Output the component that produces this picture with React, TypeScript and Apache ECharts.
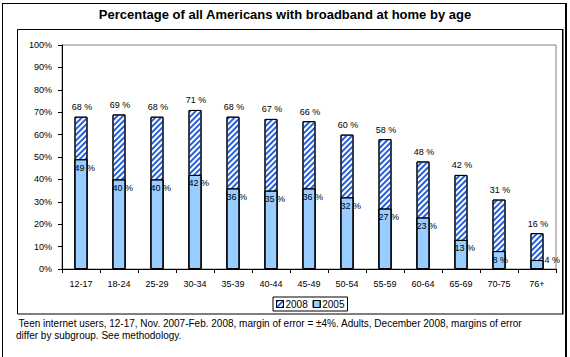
import React, { useEffect, useRef } from "react";
import * as echarts from "echarts";

const categories = ["12-17", "18-24", "25-29", "30-34", "35-39", "40-44", "45-49", "50-54", "55-59", "60-64", "65-69", "70-75", "76+"];
const values2008 = [68, 69, 68, 71, 68, 67, 66, 60, 58, 48, 42, 31, 16];
const values2005 = [49, 40, 40, 42, 36, 35, 36, 32, 27, 23, 13, 8, 4];
const yTicks = [0, 10, 20, 30, 40, 50, 60, 70, 80, 90, 100];
const titleText = "Percentage of all Americans with broadband at home by age";
const noteText =
  " Teen internet users, 12-17, Nov. 2007-Feb. 2008, margin of error = \u00b14%. Adults, December 2008, margins of error\ndiffer by subgroup. See methodology.";

const FONT = "Arial, 'Liberation Sans', sans-serif";

const hatch = {
  symbol: "rect",
  symbolSize: 1,
  dashArrayX: [1, 0],
  dashArrayY: [1.1, 1.9],
  rotation: -Math.PI / 4,
  color: "#2660d8",
};

export default function App() {
  const ref = useRef<HTMLDivElement>(null);
  useEffect(() => {
    if (!ref.current) return;
    const chart = echarts.init(ref.current, undefined, { renderer: "svg" });
    const labelFont = { fontFamily: FONT, fontSize: 9, color: "#000" };
    chart.setOption({
      animation: false,
      backgroundColor: "#fff",
      aria: { enabled: true, decal: { show: true } },
      title: {
        text: titleText,
        left: "center",
        top: 8,
        padding: 0,
        textStyle: { fontFamily: FONT, fontSize: 13, fontWeight: "bold", color: "#000" },
      },
      grid: {
        left: 62,
        right: 14,
        top: 45,
        bottom: 88,
        show: true,
        borderColor: "#808080",
        borderWidth: 1,
        backgroundColor: "transparent",
      },
      legend: {
        data: [
          { name: "2008", icon: "rect", itemStyle: { color: "#ffffff", borderColor: "#000", borderWidth: 1, decal: hatch } },
          { name: "2005", icon: "rect", itemStyle: { color: "#99ccff", borderColor: "#000", borderWidth: 1, decal: { symbol: "none" } } },
        ],
        left: 273,
        top: 297,
        orient: "horizontal",
        itemWidth: 7,
        itemHeight: 7,
        itemGap: 5,
        padding: [2, 3, 2, 3],
        borderColor: "#000",
        borderWidth: 1,
        textStyle: { fontFamily: FONT, fontSize: 10, color: "#000", padding: [0, 0, 0, -3] },
      },
      xAxis: {
        type: "category",
        data: categories,
        axisLine: { lineStyle: { color: "#000", width: 1 } },
        axisTick: { show: true, length: 4, lineStyle: { color: "#000" } },
        axisLabel: { ...labelFont, margin: 10, interval: 0 },
        splitLine: { show: false },
      },
      yAxis: {
        type: "value",
        min: yTicks[0],
        max: yTicks[yTicks.length - 1],
        interval: 10,
        axisLine: { show: true, lineStyle: { color: "#000", width: 1 } },
        axisTick: { show: true, length: 4, lineStyle: { color: "#000" } },
        axisLabel: { ...labelFont, margin: 10, formatter: "{value}%" },
        splitLine: { show: false },
      },
      series: [
        {
          name: "2008",
          type: "bar",
          data: values2008,
          barWidth: 13,
          barGap: "-100%",
          z: 2,
          itemStyle: {
            color: "#ffffff",
            borderColor: "#000",
            borderWidth: 1,
            decal: hatch,
          },
          label: {
            show: true,
            position: "top",
            distance: 5,
            offset: [1, 0],
            formatter: "{c} %",
            ...labelFont,
          },
        },
        {
          name: "2005",
          type: "bar",
          data: values2005.map((v) =>
            v < 5
              ? { value: v, label: { position: [14, -9] } }
              : v
          ),
          barWidth: 13,
          barGap: "-100%",
          z: 3,
          itemStyle: {
            color: "#99ccff",
            borderColor: "#000",
            borderWidth: 1,
            decal: { symbol: "none" },
          },
          label: {
            show: true,
            position: "insideTopLeft",
            distance: 0,
            offset: [0, 4],
            formatter: "{c} %",
            ...labelFont,
          },
        },
      ],
      graphic: [
        { type: "line", shape: { x1: 2.5, y1: 3, x2: 2.5, y2: 357 }, style: { stroke: "#000", lineWidth: 1 } },
        { type: "line", shape: { x1: 2.5, y1: 3.5, x2: 567, y2: 3.5 }, style: { stroke: "#000", lineWidth: 1 } },
        { type: "rect", shape: { x: 565, y: 3, width: 2, height: 354 }, style: { fill: "#000" } },
        { type: "rect", shape: { x: 17.5, y: 29.5, width: 545, height: 284.5 }, style: { fill: "none", stroke: "#000", lineWidth: 1 } },
        { type: "rect", shape: { x: 562, y: 29, width: 1.5, height: 285.5 }, style: { fill: "#000" } },
        {
          type: "text",
          x: 16,
          y: 317,
          style: {
            text: noteText,
            fontFamily: FONT,
            fontSize: 10,
            lineHeight: 12,
            fill: "#000",
          },
        },
      ],
    });
    return () => chart.dispose();
  }, []);
  return <div ref={ref} style={{ width: 570, height: 357, position: "absolute", left: 0, top: 0 }} />;
}
